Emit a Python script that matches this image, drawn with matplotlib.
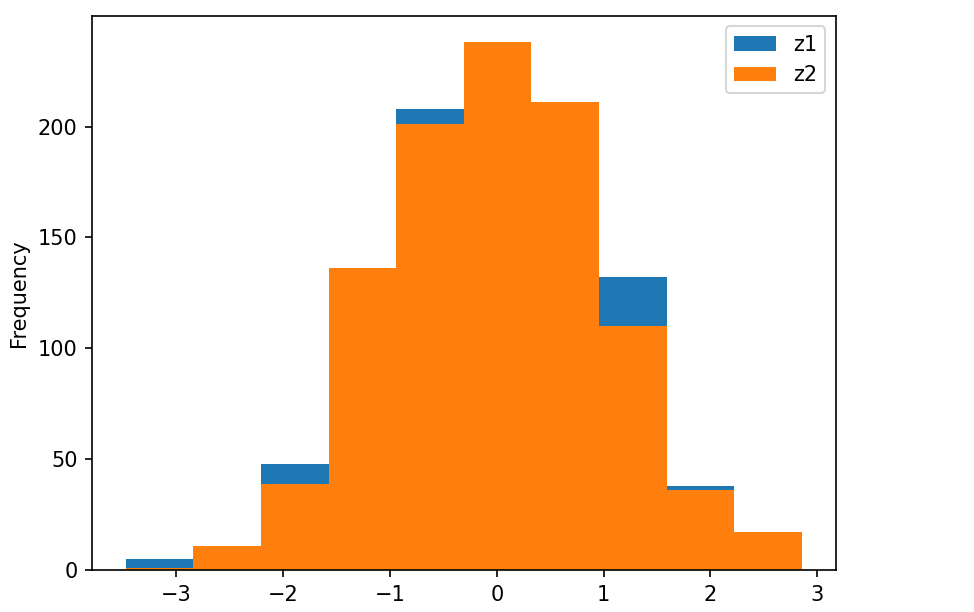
import numpy as np
import matplotlib
matplotlib.use("Agg")
import matplotlib.pyplot as plt

# histogram bin edges (shared) and counts
edge_min = -3.474
edge_max = 2.856
z1_counts = [5, 11, 48, 136, 208, 215, 195, 132, 38, 12]
z2_counts = [1, 11, 39, 136, 201, 238, 211, 110, 36, 17]

edges = np.linspace(edge_min, edge_max, len(z1_counts) + 1)
centers = (edges[:-1] + edges[1:]) / 2

# reference looks rendered at ~1.5x scale
DPI = 150
fig = plt.figure(figsize=(974 / DPI, 612 / DPI), dpi=DPI)
ax = fig.add_axes([0.0945, 0.0686, 0.7635, 0.9053])

ax.hist(centers, bins=edges, weights=z1_counts, label="z1", color="C0")
ax.hist(centers, bins=edges, weights=z2_counts, label="z2", color="C1")

ax.set_ylabel("Frequency")
ax.legend(loc="upper right")

fig.savefig("out.png", dpi=DPI)
